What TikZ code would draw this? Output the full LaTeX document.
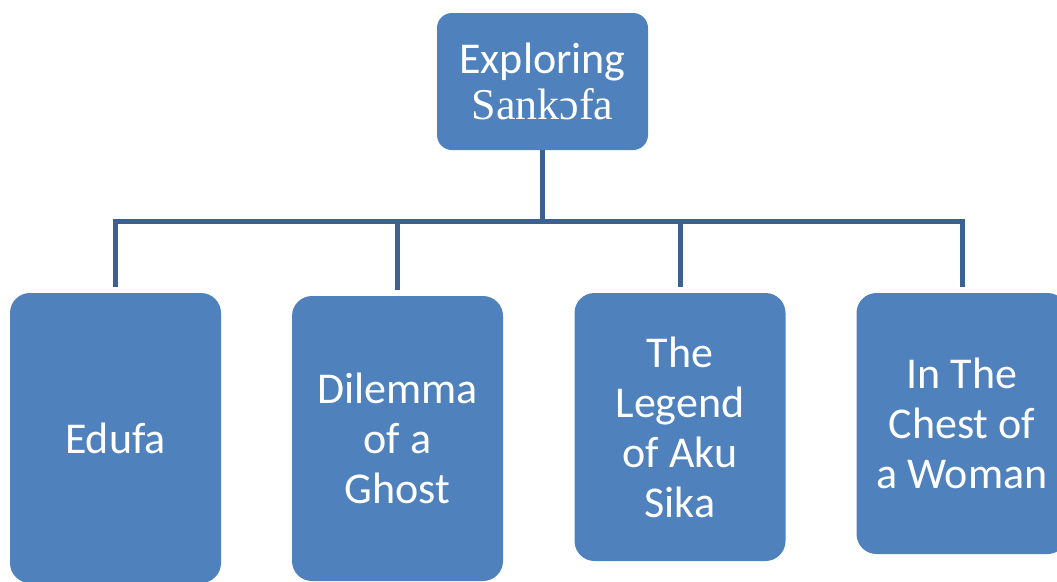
\documentclass[tikz,border=0pt]{standalone}
\usepackage{fontspec}
\setmainfont{Carlito}
\newfontfamily\sankfont{Liberation Serif}
\definecolor{boxblue}{RGB}{79,129,189}
\definecolor{lineblue}{RGB}{60,96,145}
\begin{document}
\begin{tikzpicture}[x=1pt, y=-1pt,
    titlebox/.style={fill=boxblue, rounded corners=15pt, minimum width=211pt, minimum height=137pt,
        text=white, align=center, inner sep=0pt, font=\fontsize{44}{46}\selectfont},
    playbox/.style={fill=boxblue, rounded corners=20pt, minimum width=211pt,
        text=white, align=center, inner sep=0pt, font=\fontsize{44}{50}\selectfont},
    link/.style={draw=lineblue, line width=5pt, shorten >=6pt}]
    % Page
    \useasboundingbox (0,0) rectangle (1057,581);
    \clip (0,0) rectangle (1057,581);

    % Top node
    \node[titlebox] (top) at (542.5,81.5) {Exploring\\{\sankfont Sankɔfa}};

    % Plays
    \node[playbox, minimum height=290pt] (edufa) at (115.5,438) {Edufa};
    \node[playbox, minimum height=285pt] (ghost) at (397.5,438.5) {Dilemma\\of a\\Ghost};
    \node[playbox, minimum height=268pt] (legend) at (680,427) {The\\Legend\\of Aku\\Sika};
    \node[playbox, minimum height=261pt] (chest) at (962,423.5) {In The\\Chest of\\a Woman};

    % Connectors
    \coordinate (bus) at (542.5,221);
    \draw[link, shorten >=0pt] (top.south) -- (bus);
    \draw[link] (bus) -| (edufa.north);
    \draw[link] (bus) -| (ghost.north);
    \draw[link] (bus) -| (legend.north);
    \draw[link] (bus) -| (chest.north);
\end{tikzpicture}
\end{document}
